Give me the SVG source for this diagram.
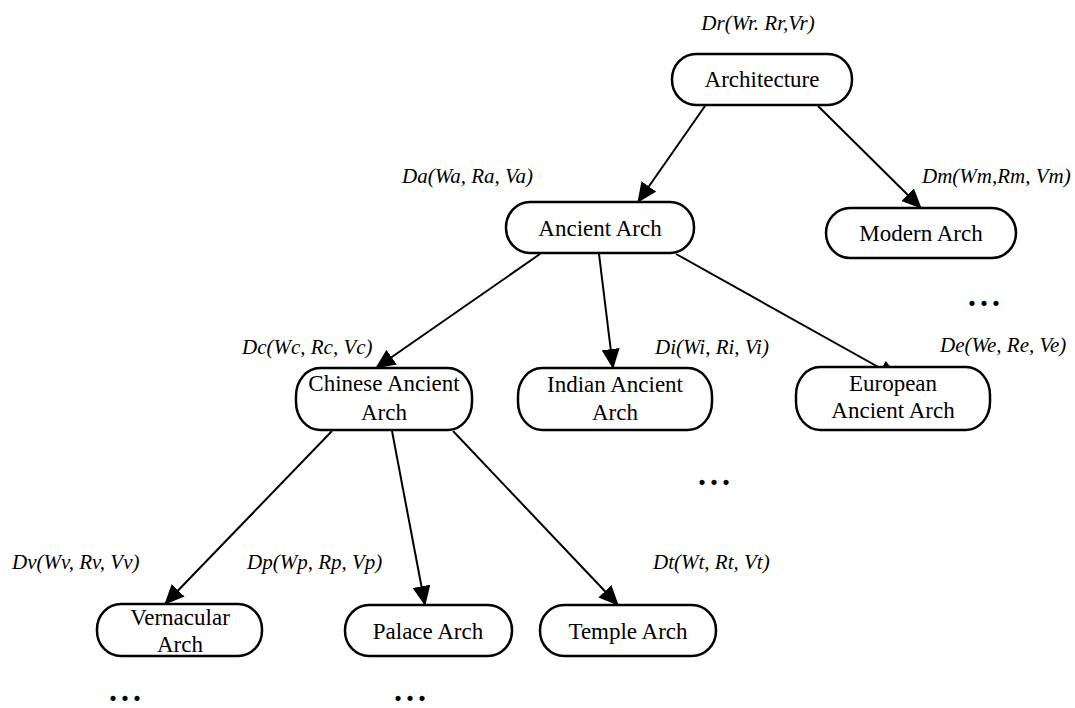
<svg xmlns="http://www.w3.org/2000/svg" width="1075" height="708" viewBox="0 0 1075 708">
<defs>
<marker id="ah" markerWidth="20" markerHeight="18" refX="19" refY="9" orient="auto" markerUnits="userSpaceOnUse">
<path d="M0,0 L20,9 L0,18 Z" fill="#000"/>
</marker>
<style>
.node rect{fill:#fff;stroke:#000;stroke-width:2.5}
.node text{font-family:"Liberation Serif","Times New Roman",serif;font-size:23px;text-anchor:middle;fill:#000}
.lbl{font-family:"Liberation Serif","Times New Roman",serif;font-size:21px;font-style:italic;fill:#000}
.dots{font-family:"Liberation Serif","Times New Roman",serif;font-size:32px;font-weight:bold;letter-spacing:4px;text-anchor:middle;fill:#000}
.edges line{stroke:#000;stroke-width:2;marker-end:url(#ah)}
</style>
</defs>
<rect width="1075" height="708" fill="#fff"/>
<g class="edges">
<line x1="705" y1="106" x2="638" y2="202"/>
<line x1="818" y1="106" x2="921" y2="208"/>
<line x1="540" y1="254" x2="376" y2="368"/>
<line x1="599" y1="254" x2="613" y2="368"/>
<line x1="676" y1="254" x2="898" y2="378"/>
<line x1="332" y1="431" x2="165" y2="604"/>
<line x1="392" y1="431" x2="425" y2="605"/>
<line x1="453" y1="431" x2="618" y2="605"/>
</g>
<g id="architecture" class="node"><rect x="672" y="54" width="180" height="51" rx="24" ry="25"/><text x="762" y="87">Architecture</text></g>
<g id="ancient" class="node"><rect x="506" y="202" width="188" height="51" rx="24" ry="25"/><text x="600" y="236">Ancient  Arch</text></g>
<g id="modern" class="node"><rect x="826" y="208" width="190" height="50" rx="24" ry="25"/><text x="921" y="241">Modern Arch</text></g>
<g id="chinese" class="node"><rect x="296" y="368" width="176" height="62" rx="24" ry="28"/><text x="384" y="391">Chinese Ancient</text><text x="384" y="420">Arch</text></g>
<g id="indian" class="node"><rect x="518" y="368" width="194" height="62" rx="24" ry="28"/><text x="615" y="392">Indian  Ancient</text><text x="615" y="420">Arch</text></g>
<g id="european" class="node"><rect x="796" y="367" width="194" height="63" rx="24" ry="28"/><text x="893" y="391">European</text><text x="893" y="418">Ancient Arch</text></g>
<g id="vernacular" class="node"><rect x="97" y="604" width="165" height="52" rx="24" ry="25"/><text x="180" y="625">Vernacular</text><text x="180" y="652">Arch</text></g>
<g id="palace" class="node"><rect x="345" y="605" width="167" height="51" rx="24" ry="25"/><text x="428" y="639">Palace Arch</text></g>
<g id="temple" class="node"><rect x="540" y="605" width="176" height="51" rx="24" ry="25"/><text x="628" y="639">Temple Arch</text></g>
<g id="labels">
<text class="lbl" x="758" y="30" text-anchor="middle">Dr(Wr. Rr,Vr)</text>
<text class="lbl" x="402" y="183">Da(Wa, Ra, Va)</text>
<text class="lbl" x="922" y="183">Dm(Wm,Rm, Vm)</text>
<text class="lbl" x="242" y="354">Dc(Wc, Rc, Vc)</text>
<text class="lbl" x="655" y="354">Di(Wi, Ri, Vi)</text>
<text class="lbl" x="940" y="352">De(We, Re, Ve)</text>
<text class="lbl" x="12" y="569">Dv(Wv, Rv, Vv)</text>
<text class="lbl" x="247" y="569">Dp(Wp, Rp, Vp)</text>
<text class="lbl" x="653" y="569">Dt(Wt, Rt, Vt)</text>
</g>
<g id="ellipses">
<text class="dots" x="986" y="306">...</text>
<text class="dots" x="716" y="485">...</text>
<text class="dots" x="127" y="701">...</text>
<text class="dots" x="412" y="701">...</text>
</g>
</svg>
